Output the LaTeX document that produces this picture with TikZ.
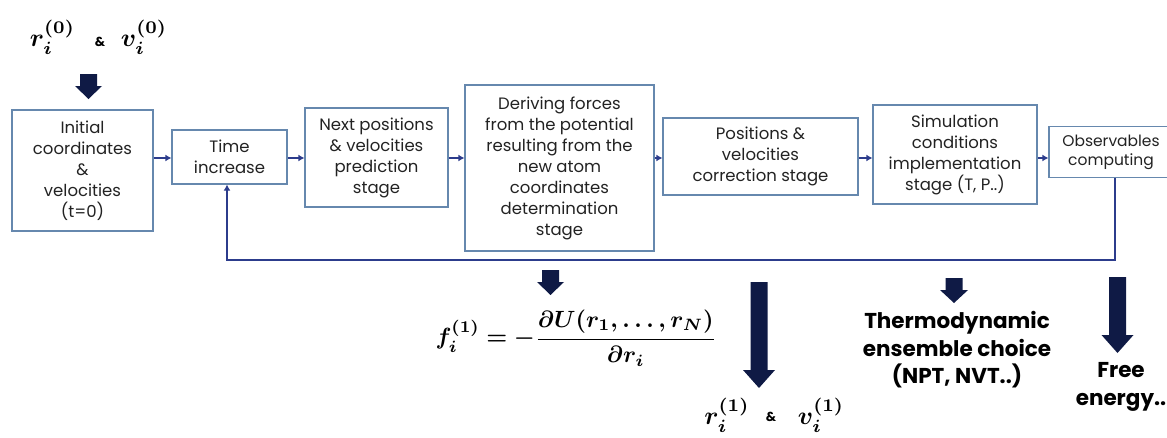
\documentclass[tikz,border=0pt]{standalone}
\usepackage{amsmath, amssymb}
\usepackage{bm}
\usepackage[no-math]{fontspec}
\newfontfamily\boxfont{Poppins}
\usepackage{xcolor}
\usepackage{tikz}
\usetikzlibrary{arrows.meta}
\definecolor{boxblue}{HTML}{6688AE}
\definecolor{linkblue}{HTML}{2C3C8C}
\definecolor{navy}{HTML}{0F1A45}
\definecolor{textgray}{HTML}{222222}

% fat downward arrow: x, y top, y tip, head half width, head length
\newcommand{\fatarrow}[5]{%
  \fill[navy] (#1-8.5,#2) -- (#1+8.5,#2) -- (#1+8.5,#3-#5) -- (#1+#4,#3-#5)
    -- (#1,#3) -- (#1-#4,#3-#5) -- (#1-8.5,#3-#5) -- cycle;}

\begin{document}
\begin{tikzpicture}[x=1pt,y=-1pt,
  stagebox/.style={draw=boxblue,line width=1.2pt,align=center,text=textgray,
    inner sep=2pt,font=\boxfont\fontsize{16.5}{21}\selectfont},
  link/.style={linkblue,line width=2.6pt,-{Latex[length=6pt,width=7pt]}},
  outtext/.style={align=center,text=black,font=\boxfont\bfseries\fontsize{21.5}{27.5}\selectfont},
  mathtext/.style={inner sep=0pt,scale=2.35},
  vartext/.style={inner sep=0pt,scale=2.55},
  amp/.style={font=\boxfont\bfseries\fontsize{13}{15}\selectfont}]

\useasboundingbox (0,0) rectangle (1167,437);

%========================
% stages
%========================

\node[stagebox,minimum width=141pt,minimum height=121pt] (init) at (82.5,170.5)
  {Initial\\coordinates\\\&\\velocities\\(t=0)};
\node[stagebox,minimum width=115pt,minimum height=54pt] (time) at (229.5,157)
  {Time\\increase};
\node[stagebox,minimum width=143pt,minimum height=99pt] (pred) at (376.5,157.5)
  {Next positions\\\& velocities\\prediction\\stage};
\node[stagebox,minimum width=189pt,minimum height=166pt] (force) at (559.5,168)
  {Deriving forces\\from the potential\\resulting from the\\new atom\\coordinates\\determination\\stage};
\node[stagebox,minimum width=195pt,minimum height=77pt] (corr) at (760.5,156.5)
  {Positions \&\\velocities\\correction stage};
\node[stagebox,minimum width=164pt,minimum height=99pt] (cond) at (955,154.5)
  {Simulation\\conditions\\implementation\\stage (T, P..)};
\node[stagebox,minimum width=124pt,minimum height=51pt,
  font=\boxfont\fontsize{15.5}{19}\selectfont] (obs) at (1111,152)
  {Observables\\computing};

% frecce tra gli stadi
\coordinate (row) at (0,158);
\foreach \a/\b in {init/time,time/pred,pred/force,force/corr,corr/cond,cond/obs}
{
    \draw[link] (\a.east |- row) -- (\b.west |- row);
}

% ritorno
\coordinate (back) at (0,260);
\draw[link,line width=2.4pt] ([xshift=4pt]obs.south) -- ([xshift=4pt]obs.south |- back)
  -- ([xshift=-2.5pt]time.south |- back) -- ([xshift=-2.5pt]time.south);

%========================
% inputs and outputs
%========================

% condizioni iniziali
\node[vartext] (r0) at (52.5,37) {$\bm{r_i^{(0)}}$};
\node[amp] (a0) at (100,42) {\&};
\node[vartext] (v0) at (144,37) {$\bm{v_i^{(0)}}$};
\fatarrow{88.5}{74}{99}{13.5}{13}

% forza
\node[mathtext] (force eq) at (576,338)
  {$\bm{f_i^{(1)} = -\dfrac{\partial U(r_1,\ldots,r_N)}{\partial r_i}}$};
\fatarrow{550.5}{270}{295}{13.5}{13}

% nuove posizioni
\node[vartext] (r1) at (727,415) {$\bm{r_i^{(1)}}$};
\node[amp] (a1) at (771,417) {\&};
\node[vartext] (v1) at (821,415) {$\bm{v_i^{(1)}}$};
\fatarrow{759}{282}{388}{16}{18}

% ensemble
\node[outtext] (ens) at (957,350) {Thermodynamic\\ensemble choice\\(NPT, NVT..)};
\fatarrow{954}{278}{303}{14}{13}

% osservabili
\node[outtext] (free) at (1121,387) {Free\\energy..};
\fatarrow{1117.5}{277}{353}{16}{18}
\end{tikzpicture}
\end{document}
